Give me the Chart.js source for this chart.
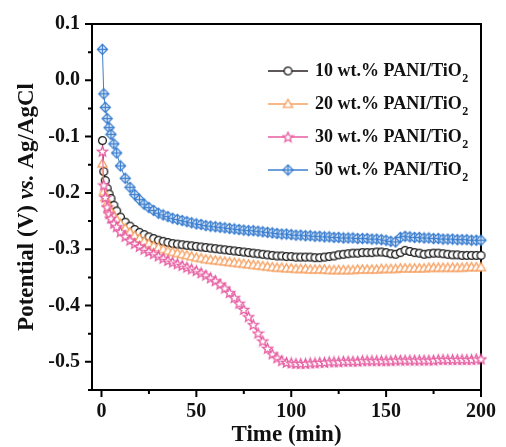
<!DOCTYPE html>
<html><head><meta charset="utf-8">
<script src="https://cdn.jsdelivr.net/npm/chart.js@4.4.0/dist/chart.umd.min.js"></script>
<style>html,body{margin:0;padding:0;background:#fff;}#wrap{width:506px;height:447px;position:relative;}</style>
</head><body><div id="wrap"><canvas id="c" width="506" height="447"></canvas></div>
<script>
// ---- data ----
const TIME = [0.5,1.2,2,3,4,5,6.5,8,10,
  12.5,15,17.5,20,22.5,25,27.5,30,32.5,35,37.5,40,42.5,45,47.5,50,
  52.5,55,57.5,60,62.5,65,67.5,70,72.5,75,77.5,80,82.5,85,87.5,90,
  92.5,95,97.5,100,102.5,105,107.5,110,112.5,115,117.5,120,122.5,125,127.5,130,
  132.5,135,137.5,140,142.5,145,147.5,150,152.5,155,157.5,160,162.5,165,167.5,170,
  172.5,175,177.5,180,182.5,185,187.5,190,192.5,195,197.5,200];
const PANI10 = [-0.107,-0.162,-0.178,-0.192,-0.202,-0.21,-0.222,-0.232,-0.243,
  -0.252,-0.259,-0.265,-0.27,-0.274,-0.278,-0.281,-0.284,-0.286,-0.288,-0.29,-0.291,-0.292,-0.293,-0.294,-0.295,
  -0.296,-0.297,-0.298,-0.299,-0.3,-0.301,-0.302,-0.303,-0.304,-0.305,-0.306,-0.307,-0.308,-0.309,-0.31,-0.311,
  -0.312,-0.312,-0.313,-0.313,-0.314,-0.314,-0.314,-0.314,-0.315,-0.315,-0.314,-0.313,-0.312,-0.31,-0.309,-0.308,
  -0.307,-0.307,-0.306,-0.306,-0.306,-0.305,-0.305,-0.306,-0.308,-0.309,-0.306,-0.302,-0.304,-0.306,-0.307,-0.309,
  -0.308,-0.307,-0.307,-0.308,-0.309,-0.31,-0.31,-0.311,-0.311,-0.311,-0.311,-0.311];
const PANI20 = [-0.148,-0.198,-0.208,-0.218,-0.227,-0.234,-0.241,-0.247,-0.255,
  -0.263,-0.27,-0.276,-0.281,-0.286,-0.29,-0.294,-0.297,-0.3,-0.303,-0.305,-0.307,-0.309,-0.311,-0.313,-0.315,
  -0.316,-0.318,-0.319,-0.32,-0.321,-0.322,-0.323,-0.324,-0.325,-0.326,-0.327,-0.328,-0.329,-0.33,-0.331,-0.332,
  -0.333,-0.333,-0.334,-0.334,-0.335,-0.335,-0.335,-0.336,-0.336,-0.336,-0.336,-0.337,-0.337,-0.337,-0.337,-0.337,
  -0.337,-0.336,-0.336,-0.336,-0.336,-0.336,-0.335,-0.335,-0.335,-0.335,-0.334,-0.334,-0.334,-0.334,-0.334,-0.334,
  -0.333,-0.333,-0.333,-0.333,-0.333,-0.333,-0.333,-0.333,-0.332,-0.332,-0.332,-0.332];
const PANI30 = [-0.126,-0.186,-0.208,-0.225,-0.237,-0.245,-0.254,-0.26,-0.269,
  -0.277,-0.284,-0.29,-0.295,-0.3,-0.304,-0.308,-0.312,-0.316,-0.32,-0.323,-0.326,-0.329,-0.332,-0.335,-0.338,
  -0.342,-0.346,-0.351,-0.356,-0.362,-0.369,-0.377,-0.386,-0.396,-0.407,-0.42,-0.434,-0.449,-0.463,-0.476,-0.486,
  -0.493,-0.498,-0.501,-0.502,-0.503,-0.503,-0.503,-0.502,-0.502,-0.501,-0.501,-0.5,-0.5,-0.5,-0.499,-0.499,
  -0.499,-0.499,-0.498,-0.498,-0.498,-0.498,-0.498,-0.498,-0.498,-0.497,-0.497,-0.497,-0.497,-0.497,-0.497,-0.497,
  -0.497,-0.497,-0.496,-0.496,-0.496,-0.496,-0.496,-0.496,-0.496,-0.496,-0.495,-0.495];
const PANI50 = [0.055,-0.024,-0.048,-0.068,-0.084,-0.096,-0.113,-0.129,-0.152,
  -0.174,-0.19,-0.203,-0.212,-0.22,-0.226,-0.231,-0.236,-0.239,-0.242,-0.245,-0.247,-0.249,-0.251,-0.253,-0.255,
  -0.256,-0.258,-0.259,-0.26,-0.261,-0.262,-0.263,-0.264,-0.265,-0.266,-0.267,-0.267,-0.268,-0.269,-0.27,-0.271,
  -0.272,-0.273,-0.273,-0.274,-0.275,-0.275,-0.276,-0.276,-0.277,-0.277,-0.278,-0.278,-0.279,-0.279,-0.28,-0.28,
  -0.28,-0.281,-0.281,-0.281,-0.282,-0.282,-0.283,-0.284,-0.286,-0.287,-0.279,-0.277,-0.278,-0.279,-0.279,-0.28,
  -0.28,-0.281,-0.281,-0.282,-0.282,-0.282,-0.283,-0.283,-0.283,-0.284,-0.284,-0.284];
const SERIES_NAMES = ['10 wt.% PANI/TiO', '20 wt.% PANI/TiO', '30 wt.% PANI/TiO', '50 wt.% PANI/TiO'];
const X_TICKS = [0, 50, 100, 150, 200];
const X_MINOR = [25, 75, 125, 175];
const Y_TICKS = [-0.5, -0.4, -0.3, -0.2, -0.1, 0.0, 0.1];
const Y_MINOR = [-0.45, -0.35, -0.25, -0.15, -0.05, 0.05];

// ---- marker images ----
function makeMarker(kind, color) {
  const s = 13, c = document.createElement('canvas');
  c.width = s; c.height = s;
  const g = c.getContext('2d');
  const m = s / 2;
  g.strokeStyle = color; g.lineWidth = 1.3; g.fillStyle = '#fff';
  g.beginPath();
  if (kind === 'circle') {
    g.arc(m, m, 3.9, 0, Math.PI * 2);
    g.fill(); g.stroke();
  } else if (kind === 'triangle') {
    g.moveTo(m, m - 4.6); g.lineTo(m + 4.6, m + 3.4); g.lineTo(m - 4.6, m + 3.4); g.closePath();
    g.fill(); g.stroke();
  } else if (kind === 'star') {
    for (let i = 0; i < 10; i++) {
      const r = i % 2 === 0 ? 5.2 : 2.3;
      const a = -Math.PI / 2 + i * Math.PI / 5;
      const px = m + r * Math.cos(a), py = m + 0.5 + r * Math.sin(a);
      if (i === 0) g.moveTo(px, py); else g.lineTo(px, py);
    }
    g.closePath(); g.fill(); g.stroke();
  } else if (kind === 'diamondplus') {
    g.moveTo(m, m - 5); g.lineTo(m + 5, m); g.lineTo(m, m + 5); g.lineTo(m - 5, m); g.closePath();
    g.fill(); g.stroke();
    g.beginPath(); g.moveTo(m, m - 5); g.lineTo(m, m + 5); g.moveTo(m - 5, m); g.lineTo(m + 5, m); g.stroke();
  }
  return c;
}
const COLORS = ['#2b2020', '#F7A061', '#E65BA0', '#3C7FD0'];
const MARKER_COLORS = ['#151515', '#F7A061', '#E65BA0', '#3C7FD0'];
const KINDS = ['circle', 'triangle', 'star', 'diamondplus'];
const MARKERS = KINDS.map((k, i) => makeMarker(k, MARKER_COLORS[i]));
const VALUES = [PANI10, PANI20, PANI30, PANI50];

const datasets = VALUES.map((vals, i) => ({
  label: SERIES_NAMES[i] + '2',
  data: TIME.map((t, j) => ({ x: t, y: vals[j] })),
  borderColor: COLORS[i],
  borderWidth: 1,
  pointStyle: MARKERS[i],
  pointRadius: 4,
  pointHoverRadius: 4,
  tension: 0,
  clip: 6,
  order: i === 3 ? 0 : 3 - i
}));

const FONT = 'Liberation Serif';
const decor = {
  id: 'decor',
  beforeDatasetsDraw(chart) {
    const ctx = chart.ctx, a = chart.chartArea, xs = chart.scales.x, ys = chart.scales.y;
    ctx.save();
    ctx.strokeStyle = '#000'; ctx.lineWidth = 2;
    ctx.beginPath();
    ctx.moveTo(a.left - 4, a.bottom); ctx.lineTo(a.right, a.bottom); ctx.lineTo(a.right, a.top);
    ctx.lineTo(a.left, a.top); ctx.lineTo(a.left, a.bottom);
    ctx.stroke();
    ctx.beginPath();
    X_TICKS.forEach(v => { const p = xs.getPixelForValue(v); ctx.moveTo(p, a.bottom); ctx.lineTo(p, a.bottom + 7); });
    X_MINOR.forEach(v => { const p = xs.getPixelForValue(v); ctx.moveTo(p, a.bottom); ctx.lineTo(p, a.bottom + 4); });
    Y_TICKS.forEach(v => { const p = ys.getPixelForValue(v); ctx.moveTo(a.left, p); ctx.lineTo(a.left - 7, p); });
    Y_MINOR.forEach(v => { const p = ys.getPixelForValue(v); ctx.moveTo(a.left, p); ctx.lineTo(a.left - 4, p); });
    ctx.stroke();
    ctx.restore();
  },
  afterDraw(chart) {
    const ctx = chart.ctx, a = chart.chartArea;
    ctx.save();
    // y-axis title with italic "vs."
    const parts = [['Potential (V) ', 'bold'], ['vs.', 'italic bold'], [' Ag/AgCl', 'bold']];
    const fs = 23;
    let total = 0;
    parts.forEach(p => { ctx.font = p[1] + ' ' + fs + 'px "' + FONT + '"'; total += ctx.measureText(p[0]).width; });
    ctx.translate(27, (a.top + a.bottom) / 2);
    ctx.rotate(-Math.PI / 2);
    ctx.fillStyle = '#111'; ctx.textBaseline = 'middle'; ctx.textAlign = 'left';
    let xx = -total / 2;
    parts.forEach(p => { ctx.font = p[1] + ' ' + fs + 'px "' + FONT + '"'; ctx.fillText(p[0], xx, 0); xx += ctx.measureText(p[0]).width; });
    ctx.restore();
    // legend
    ctx.save();
    const lx0 = 268, lx1 = 308, tx = 315;
    SERIES_NAMES.forEach((name, i) => {
      const y = 71 + i * 33;
      ctx.strokeStyle = COLORS[i]; ctx.lineWidth = 1.3;
      ctx.beginPath(); ctx.moveTo(lx0, y); ctx.lineTo(lx1, y); ctx.stroke();
      const mk = MARKERS[i];
      ctx.drawImage(mk, (lx0 + lx1) / 2 - mk.width / 2, y - mk.height / 2);
      ctx.fillStyle = '#111'; ctx.textBaseline = 'middle'; ctx.textAlign = 'left';
      ctx.font = 'bold 18px "' + FONT + '"';
      ctx.fillText(name, tx, y);
      const w = ctx.measureText(name).width;
      ctx.font = 'bold 12px "' + FONT + '"';
      ctx.fillText('2', tx + w + 0.5, y + 8);
    });
    ctx.restore();
  }
};

new Chart(document.getElementById('c'), {
  type: 'line',
  data: { datasets },
  plugins: [decor],
  options: {
    responsive: false, animation: false, devicePixelRatio: 1,
    events: [],
    layout: { padding: { top: 22, right: 16, left: 0, bottom: 0 } },
    plugins: { legend: { display: false }, tooltip: { enabled: false } },
    scales: {
      x: {
        type: 'linear', position: 'bottom', min: -5, max: 200,
        afterFit: s => { s.height = 57; },
        afterBuildTicks: s => { s.ticks = X_TICKS.map(v => ({ value: v })); },
        grid: { display: false, drawTicks: false },
        border: { display: false },
        ticks: { color: '#111', padding: 10, font: { family: FONT, size: 20, weight: 'bold' }, maxRotation: 0 },
        title: { display: true, text: 'Time (min)', color: '#111', font: { family: FONT, size: 23, weight: 'bold', lineHeight: 1 }, padding: 0 }
      },
      y: {
        type: 'linear', min: -0.55, max: 0.1,
        afterFit: s => { s.width = 92; },
        afterBuildTicks: s => { s.ticks = Y_TICKS.map(v => ({ value: v })); },
        grid: { display: false, drawTicks: false },
        border: { display: false },
        ticks: { color: '#111', padding: 12, font: { family: FONT, size: 20, weight: 'bold' },
          callback: v => (Math.abs(v) < 1e-9 ? 0 : v).toFixed(1) }
      }
    }
  }
});
</script></body></html>
